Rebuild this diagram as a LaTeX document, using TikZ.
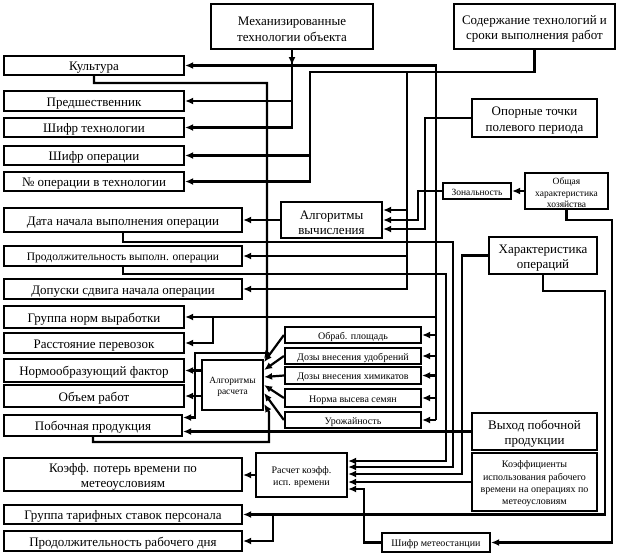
\documentclass[tikz,border=0pt]{standalone}
\usepackage{fontspec}
\setmainfont{Liberation Serif}
\usetikzlibrary{arrows.meta,calc}
\newcommand\fstrut{\rule{0pt}{1.08em}}
\begin{document}
\begin{tikzpicture}[x=1pt,y=-1pt,
  box/.style={draw,line width=2.2pt,inner sep=0pt,align=center,
    execute at begin node={\rule{0pt}{1.02em}}},
  fL/.style={font=\fontsize{13}{15.5}\selectfont},
  fM/.style={font=\fontsize{11.5}{13}\selectfont},
  fS/.style={font=\fontsize{10}{12.3}\selectfont},
  fT/.style={font=\fontsize{9.5}{11.5}\selectfont},
  ar/.style={line width=2.2pt,-{Latex[length=8pt,width=7pt]}}]
\useasboundingbox (0,0) rectangle (639,555);
% ---- boxes
\node[box,fL,minimum width=162,minimum height=45] (mech) at (292,26.5) {\fstrut Механизированные\\технологии объекта};
\node[box,fL,minimum width=161,minimum height=45] (sod) at (534.5,26.5) {\fstrut Содержание технологий и\\сроки выполнения работ};
\node[box,fL,minimum width=180,minimum height=19] (kult) at (94,65.5) {Культура};
\node[box,fL,minimum width=180,minimum height=20] (pred) at (94,101) {Предшественник};
\node[box,fL,minimum width=180,minimum height=19] (shtech) at (94,127.5) {Шифр технологии};
\node[box,fL,minimum width=180,minimum height=19] (shop) at (94,155.5) {Шифр операции};
\node[box,fL,minimum width=180,minimum height=19] (noop) at (94,181.5) {№ операции в технологии};
\node[box,fL,minimum width=238,minimum height=24] (data) at (123,220) {Дата начала выполнения операции};
\node[box,fM,minimum width=238,minimum height=20] (prod) at (123,256) {Продолжительность выполн. операции};
\node[box,fL,minimum width=238,minimum height=20] (dop) at (123,289) {Допуски сдвига начала операции};
\node[box,fL,minimum width=180,minimum height=22] (grn) at (94,317) {Группа норм выработки};
\node[box,fL,minimum width=180,minimum height=20] (rast) at (94,343) {Расстояние перевозок};
\node[box,fL,minimum width=180,minimum height=23] (norm) at (94,370.5) {Нормообразующий фактор};
\node[box,fL,minimum width=180,minimum height=22] (obem) at (94,396) {Объем работ};
\node[box,fL,minimum width=178,minimum height=21] (pob) at (93,425.5) {Побочная продукция};
\node[box,fL,minimum width=238,minimum height=27] (kpot) at (123,474.5) {\fstrut Коэфф. потерь времени по\\метеоусловиям};
\node[box,fL,minimum width=238,minimum height=19] (tarif) at (123,514.5) {Группа тарифных ставок персонала};
\node[box,fL,minimum width=238,minimum height=20] (rdn) at (123,541) {Продолжительность рабочего дня};
\node[box,fL,minimum width=125,minimum height=38] (opor) at (534.5,118) {\fstrut Опорные точки\\полевого периода};
\node[box,fT,minimum width=68,minimum height=16] (zon) at (477,191) {Зональность};
\node[box,fT,minimum width=83,minimum height=36] (obch) at (566.5,191) {\fstrut Общая\\характеристика\\хозяйства};
\node[box,fL,minimum width=101,minimum height=36] (algv) at (331.5,220) {\fstrut Алгоритмы\\вычисления};
\node[box,fL,minimum width=108,minimum height=37] (hop) at (543,255.5) {\fstrut Характеристика\\операций};
\node[box,fS,minimum width=136,minimum height=16] (obr) at (353,335) {Обраб. площадь};
\node[box,fS,minimum width=136,minimum height=16] (udob) at (353,356) {Дозы внесения удобрений};
\node[box,fS,minimum width=136,minimum height=17] (him) at (353,375.5) {Дозы внесения химикатов};
\node[box,fS,minimum width=136,minimum height=18] (vys) at (353,398) {Норма высева семян};
\node[box,fS,minimum width=136,minimum height=16] (urog) at (353,420) {Урожайность};
\node[box,fT,minimum width=61,minimum height=50] (algr) at (232.5,385) {\fstrut Алгоритмы\\расчета};
\node[box,fL,minimum width=125,minimum height=37] (vyh) at (534.5,431.5) {\fstrut Выход побочной\\продукции};
\node[box,fS,minimum width=125,minimum height=58] (koef) at (534.5,482) {\fstrut Коэффициенты\\использования рабочего\\времени на операциях по\\метеоусловиям};
\node[box,fS,minimum width=91,minimum height=44] (rasch) at (301.5,475) {\fstrut Расчет коэфф.\\исп. времени};
\node[box,fS,minimum width=108,minimum height=19] (meteo) at (436,542.5) {Шифр метеостанции};
% ---- helper coordinates
\coordinate (kbus) at (436,0);
\coordinate (gx) at (213,0);
\coordinate (sx) at (310,72);
\coordinate (s2) at (407,72);
\coordinate (zx) at (418,0);
\coordinate (ox) at (425,0);
\coordinate (k2) at (267,83);
\coordinate (k3) at (267,353);
\coordinate (hx) at (462,0);
\coordinate (tx) at (273,0);
\coordinate (av1) at ($(algv.east)+(0,-10)$);
\coordinate (av2) at (algv.east);
\coordinate (av3) at ($(algv.east)+(0,9)$);
\coordinate (pb1) at ($(pob.east)+(0,-8)$);
\coordinate (r1) at ($(rasch.east)+(0,-14)$);
\coordinate (r2) at ($(rasch.east)+(0,-8)$);
\coordinate (r3) at ($(rasch.east)+(0,-1)$);
\coordinate (r4) at ($(rasch.east)+(0,7)$);
\coordinate (r5) at ($(rasch.east)+(0,14)$);
% ---- mechanised technologies
\draw[ar] (mech.south) |- (shtech.east);
\draw[ar] (mech.south |- pred.east) -- (pred.east);
\draw[ar] (mech.south) -- ++(0,15);
% ---- crop bus
\draw[ar] (kbus |- urog.east) |- (kult.east);
\draw[ar] (kbus |- urog.east) -- (urog.east);
\foreach \n in {obr,udob,him,vys} \draw[ar] (kbus |- \n.east) -- (\n.east);
\draw[ar] (kbus |- grn.east) -- (grn.east);
\draw[ar] (gx |- grn.east) |- (rast.east);
% ---- technology content
\draw[ar] (sod.south) |- (sx) |- (noop.east);
\draw[ar] (sx |- shop.east) -- (shop.east);
\draw[ar] (s2) |- (dop.east);
\draw[ar] (s2 |- prod.east) -- (prod.east);
\draw[ar] (s2 |- av1) -- (av1);
\draw[ar] (zon.west) -| (zx |- av2) -- (av2);
\draw[ar] (opor.west) -| (ox |- av3) -- (av3);
\draw[ar] (obch.west) -- (zon.east);
\draw[ar] (algv.west) -- (data.east);
% ---- crop to calculation
\draw[ar] (kult.south) |- (k2) -- (267,354) -- (algr.north east);
\draw[ar] (k3) -- (195,353) |- (pb1);
\draw[ar] (obr.west) -- ($(algr.east)+(0,-23)$);
\draw[ar] (udob.west) -- ($(algr.east)+(0,-15)$);
\draw[ar] (him.west) -- ($(algr.east)+(0,-8)$);
\draw[ar] (vys.west) -- (algr.east);
\draw[ar] (urog.west) -- ($(algr.east)+(0,8)$);
\draw[ar] (pob.south) |- (269,442) -- (269,412) -- ($(algr.east)+(0,19)$);
\draw[ar] (algr.west |- norm.east) -- (norm.east);
\draw[ar] (algr.west |- obem.east) -- (obem.east);
\draw[ar] (vyh.west) -- (vyh.west -| pob.east);
% ---- time coefficient
\draw[ar] (prod.south) |- (446,274) |- (r1);
\draw[ar] (data.south) |- (453,242) |- (r2);
\draw[ar] (hop.west) -- (hx |- hop.west) |- (r3);
\draw[ar] (koef.west) -- (r4);
\draw[ar] (meteo.west) -| (364,500) |- (r5);
\draw[ar] (rasch.west) -- (rasch.west -| kpot.east);
% ---- operations characteristics
\draw[ar] (hop.south) |- (605,291) |- (tarif.east);
\draw[ar] (tx |- tarif.east) |- (rdn.east);
\draw[ar] (obch.south) |- (612,220) |- (meteo.east);
\end{tikzpicture}
\end{document}
